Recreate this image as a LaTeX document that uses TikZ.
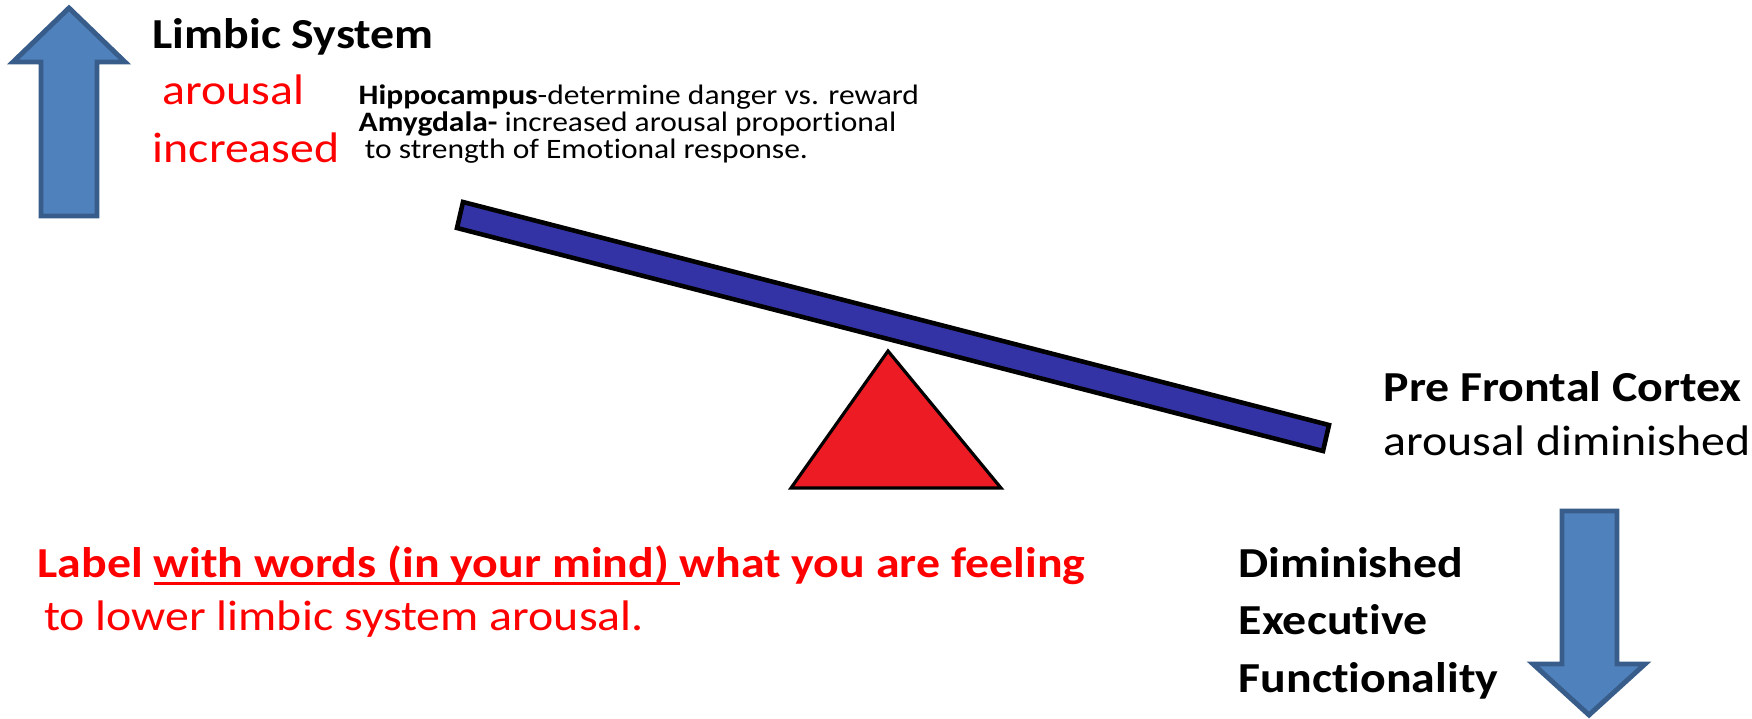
\documentclass[tikz,border=0pt]{standalone}
\usepackage{fontspec}
\setmainfont{Carlito}[FakeStretch=1.12, Ligatures=NoCommon]

\definecolor{arrowfill}{RGB}{79,129,189}
\definecolor{arrowline}{RGB}{56,93,138}
\definecolor{beamblue}{RGB}{51,51,166}
\definecolor{fulcrumred}{RGB}{237,28,36}
\definecolor{txtred}{RGB}{255,0,0}

\newcommand\bigsz{\fontsize{12.15pt}{14pt}\selectfont}
\newcommand\smallsz{\fontsize{8pt}{9.5pt}\selectfont}
\newsavebox\ulbox
\newcommand\ultext[1]{\sbox\ulbox{#1}\rlap{\rule[-2.2pt]{\wd\ulbox}{0.85pt}}\usebox\ulbox}

\begin{document}
\begin{tikzpicture}[x=0.01cm, y=-0.01cm,
  bigtxt/.style={anchor=base west, inner sep=0pt, font=\bigsz},
  smalltxt/.style={anchor=base west, inner sep=0pt, font=\smallsz},
  fatarrow/.style={fill=arrowfill, draw=arrowline, line width=1.4pt, line join=miter}]
  \useasboundingbox (0,0) rectangle (1752,718);

  % big arrows
  \draw[fatarrow] (69,8) -- (125,62) -- (97,62) -- (97,216) -- (41,216) -- (41,62) -- (13,62) -- cycle;
  \draw[fatarrow] (1589,715) -- (1645,664) -- (1617,664) -- (1617,511) -- (1562,511) -- (1562,664) -- (1533,664) -- cycle;

  % seesaw
  \draw[fill=fulcrumred, line width=0.9pt] (888,351) -- (1001,488) -- (791,488) -- cycle;
  \draw[fill=beamblue, line width=1.3pt, line join=miter] (463,202) -- (1329,425) -- (1323,451) -- (457,228) -- cycle;

  % limbic side
  \node[bigtxt, font=\bigsz\bfseries] (limbic) at (152,48) {Limbic System};
  \node[bigtxt, txtred] (arousalup) at (162,104) {arousal};
  \node[bigtxt, txtred] (increased) at (152,162) {increased};
  \node[smalltxt] (hippo) at (358,104) {\textbf{Hippocampus}-determine danger vs. reward};
  \node[smalltxt] (amyg) at (358,131) {\textbf{Amygdala-} increased arousal proportional};
  \node[smalltxt] (strength) at (358,158) {\hspace{0.22em}to strength of Emotional response.};

  % cortex side
  \node[bigtxt, font=\bigsz\bfseries] (pfc) at (1383,401) {Pre Frontal Cortex};
  \node[bigtxt] (pfcarousal) at (1383,455) {arousal diminished};
  \node[bigtxt, font=\bigsz\bfseries] (dimA) at (1238,577) {Diminished};
  \node[bigtxt, font=\bigsz\bfseries] (dimB) at (1238,634) {Executive};
  \node[bigtxt, font=\bigsz\bfseries] (dimC) at (1238,692) {Functionality};

  % bottom note
  \node[bigtxt, txtred, font=\bigsz\bfseries] (labelA) at (37,577) {Label \ultext{with words (in your mind)\ }what you are feeling};
  \node[bigtxt, txtred] (labelB) at (37,630) {\hspace{0.15em}to lower limbic system arousal.};
\end{tikzpicture}
\end{document}
